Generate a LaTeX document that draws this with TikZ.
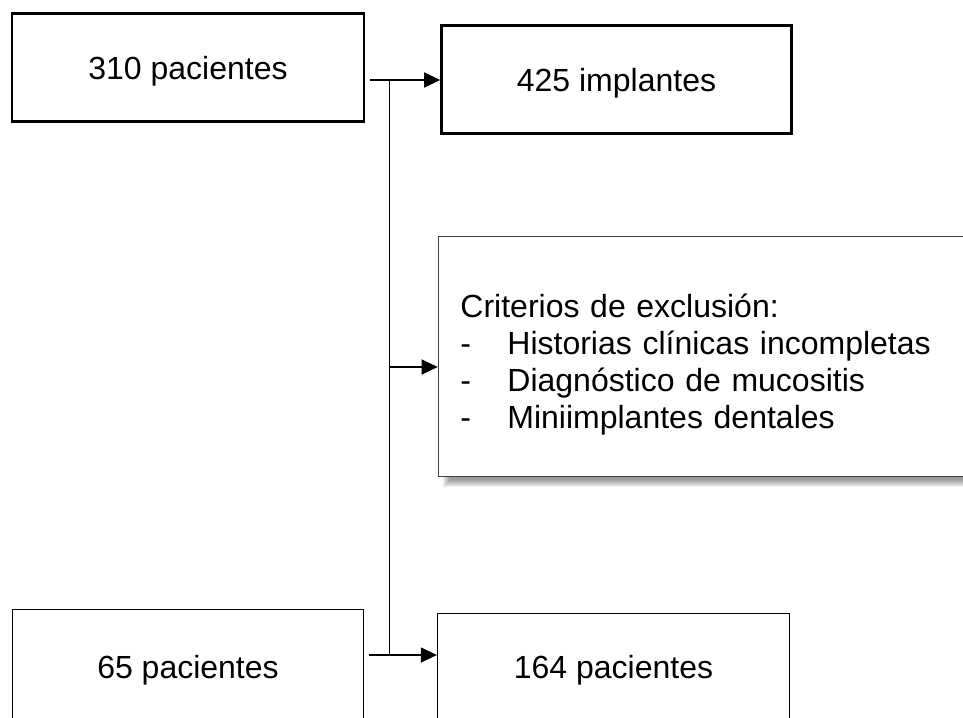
\documentclass[tikz,border=0pt]{standalone}
\usepackage{fontspec}
\setmainfont{Liberation Sans}
\usetikzlibrary{arrows.meta,calc}
\pgfdeclarelayer{bg}
\pgfsetlayers{bg,main}
\begin{document}
\begin{tikzpicture}[x=1pt,y=-1pt,
  box/.style={draw, rectangle, fill=white, inner sep=0pt, font=\fontsize{32}{37}\selectfont},
  thickbox/.style={box, line width=2.6pt, text depth=0pt},
  thinbox/.style={box, line width=1.3pt, text depth=0pt},
  critbox/.style={box, line width=1.5pt, draw=black!75, align=left, inner xsep=22pt},
  conn/.style={line width=1.4pt},
  arr/.style={conn, -{Triangle[length=16pt,width=15pt]}}]
\useasboundingbox (0,0) rectangle (963,717);
\clip (0,0) rectangle (963,717);

\node[thickbox, minimum width=352pt, minimum height=108pt] (b1) at (188,67.5) {310 pacientes};
\node[thickbox, minimum width=350pt, minimum height=108pt] (b2) at (616.5,79.5) {425 implantes};
\node[critbox, anchor=west, text width=518pt, minimum height=240pt] (crit) at (437.7,356.5)
  {\rule{0pt}{40pt}Criterios de exclusión:\\
   \makebox[47pt][l]{-}Historias clínicas incompletas\\
   \makebox[47pt][l]{-}Diagnóstico de mucositis\\
   \makebox[47pt][l]{-}Miniimplantes dentales};
\node[thinbox, minimum width=351pt, minimum height=115pt] (b3) at (188,667.3) {65 pacientes};
\node[thinbox, minimum width=352pt, minimum height=108pt] (b4) at (613.5,667.3) {164 pacientes};

\begin{pgfonlayer}{bg}
  \foreach \k in {0,...,7}
    \fill[black, opacity=0.06] ($(crit.north west)+(5+\k,10+\k)$) rectangle ($(crit.south east)+(5-\k,10-\k)$);
\end{pgfonlayer}

\coordinate (s1) at (370,80);
\coordinate (j1) at (389.5,80);
\coordinate (j2) at (389.5,367);
\coordinate (j3) at (389.5,655);
\coordinate (s3) at (369,655);

\draw[arr] (s1) -- (b2.west |- s1);
\draw[conn] (j1) -- (j3);
\draw[arr] (j2) -- (crit.west |- j2);
\draw[arr] (s3) -- (b4.west |- s3);
\end{tikzpicture}
\end{document}
